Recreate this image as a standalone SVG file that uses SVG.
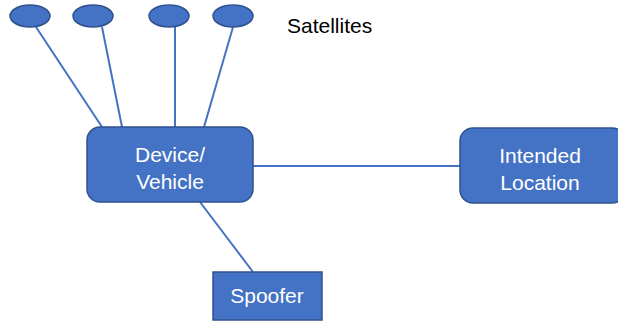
<svg xmlns="http://www.w3.org/2000/svg" width="618" height="321" viewBox="0 0 618 321">
<style>
.node{fill:#4472C4;stroke:#2F528F;stroke-width:1.5}
.lbl{font-family:"Liberation Sans",Arial,sans-serif;font-size:21px;fill:#fff;text-anchor:middle}
.edge{stroke:#4472C4;stroke-width:2;fill:none}
</style>
<rect width="618" height="321" fill="#fff"/>
<g id="connectors">
<line class="edge" x1="36" y1="27" x2="102" y2="127"/>
<line class="edge" x1="102" y1="27" x2="122" y2="127"/>
<line class="edge" x1="175" y1="27" x2="175" y2="127"/>
<line class="edge" x1="233" y1="27" x2="204" y2="127"/>
<line class="edge" x1="253" y1="166" x2="460" y2="166"/>
<line class="edge" x1="200" y1="202" x2="253" y2="272"/>
</g>
<g id="sat1"><ellipse class="node" cx="30" cy="16" rx="20" ry="11"/></g>
<g id="sat2"><ellipse class="node" cx="93" cy="16" rx="20" ry="11"/></g>
<g id="sat3"><ellipse class="node" cx="169" cy="16" rx="20" ry="11"/></g>
<g id="sat4"><ellipse class="node" cx="233" cy="16" rx="20" ry="11"/></g>
<g id="satellites-label"><text x="287" y="33" style="font-family:'Liberation Sans',Arial,sans-serif;font-size:21px;fill:#000">Satellites</text></g>
<g id="device">
<rect class="node" x="87" y="127" width="166" height="75" rx="13"/>
<text class="lbl" x="170" y="162">Device/</text>
<text class="lbl" x="170" y="189">Vehicle</text>
</g>
<g id="intended">
<rect class="node" x="460" y="128" width="165" height="75" rx="13"/>
<text class="lbl" x="540" y="163">Intended</text>
<text class="lbl" x="540" y="190">Location</text>
</g>
<g id="spoofer">
<rect class="node" x="213" y="272" width="109" height="48"/>
<text class="lbl" x="267" y="303">Spoofer</text>
</g>
</svg>
